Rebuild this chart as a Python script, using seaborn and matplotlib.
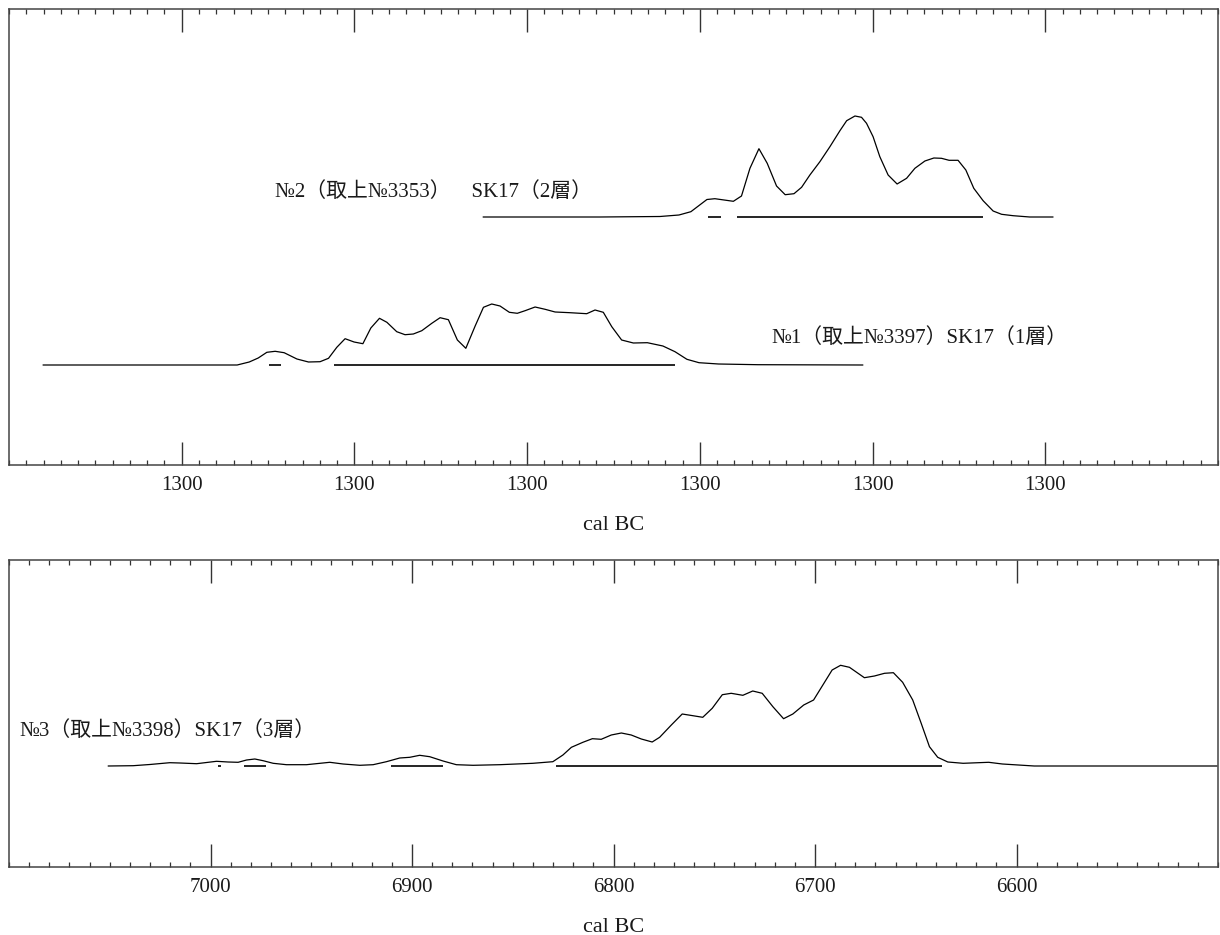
import numpy as np
import pandas as pd
import matplotlib
matplotlib.use("Agg")
import matplotlib.pyplot as plt
from matplotlib.ticker import MultipleLocator, FixedLocator
import seaborn as sns

# ---------------- data ----------------
# Upper panel: horizontal scale in axis units (major ticks every 100), all major labels read "1300"
TOP_TICK_POS = [100, 200, 300, 400, 500, 600]
TOP_TICK_LABELS = ["1300", "1300", "1300", "1300", "1300", "1300"]

# No.2 probability curve (x, relative probability)
NO2_X = [274.5, 342.2, 376.9, 387.9, 394.8, 404.1, 408.7, 419.4, 424.1, 429.0, 434.2, 439.0,
         444.4, 449.4, 454.5, 458.9, 463.7, 469.5, 475.3, 481.1, 485.0, 489.8, 493.6, 496.5,
         500.3, 504.2, 509.0, 514.2, 519.7, 524.5, 530.3, 535.5, 539.9, 544.3, 549.5, 554.0,
         558.6, 564.0, 569.8, 574.7, 581.4, 591.0, 604.5]
NO2_P = [0.0, 0.0, 0.005, 0.02, 0.053, 0.175, 0.183, 0.157, 0.21, 0.487, 0.683, 0.537,
         0.31, 0.223, 0.233, 0.297, 0.42, 0.553, 0.703, 0.863, 0.963, 1.01, 0.997, 0.937,
         0.803, 0.603, 0.42, 0.33, 0.387, 0.487, 0.56, 0.59, 0.587, 0.567, 0.567, 0.47,
         0.287, 0.163, 0.06, 0.027, 0.013, 0.0, 0.0]
NO2_HPD_START = [404.5, 421.3]
NO2_HPD_END = [412.2, 564.0]

# No.1 probability curve
NO1_X = [19.7, 132.1, 139.1, 144.3, 149.3, 154.1, 159.3, 166.7, 173.4, 180.1, 185.0, 189.8,
         194.6, 199.8, 204.9, 209.5, 214.5, 218.8, 224.5, 229.3, 234.1, 239.0, 244.8, 249.6,
         254.4, 259.6, 264.5, 269.9, 274.7, 279.5, 284.3, 289.7, 294.3, 298.8, 304.6, 310.4,
         316.2, 324.8, 334.5, 339.3, 344.1, 349.0, 354.7, 361.5, 369.6, 378.6, 385.6, 392.5,
         399.5, 410.8, 433.6, 494.4]
NO1_P = [0.0, 0.0, 0.03, 0.07, 0.127, 0.137, 0.123, 0.06, 0.03, 0.033, 0.067, 0.177,
         0.263, 0.23, 0.213, 0.37, 0.467, 0.427, 0.333, 0.303, 0.31, 0.343, 0.417, 0.473,
         0.453, 0.25, 0.167, 0.39, 0.577, 0.61, 0.59, 0.527, 0.517, 0.543, 0.58, 0.557,
         0.53, 0.523, 0.513, 0.55, 0.527, 0.383, 0.25, 0.22, 0.223, 0.19, 0.133, 0.057,
         0.023, 0.01, 0.003, 0.0]
NO1_HPD_START = [150.6, 188.4]
NO1_HPD_END = [157.4, 385.6]

# Lower panel: cal BC years
BOT_TICK_POS = [7000, 6900, 6800, 6700, 6600]
BOT_TICK_LABELS = ["7000", "6900", "6800", "6700", "6600"]

NO3_X = [7050.8, 7038.4, 7030.1, 7020.2, 7015.2, 7006.9, 6997.0, 6991.3, 6986.3, 6982.1,
         6978.0, 6973.9, 6968.9, 6962.3, 6952.4, 6940.8, 6934.2, 6925.9, 6919.3, 6912.7,
         6906.1, 6901.1, 6896.2, 6891.2, 6884.6, 6878.0, 6869.7, 6856.5, 6840.0, 6830.1,
         6825.1, 6820.9, 6815.2, 6810.5, 6806.1, 6801.1, 6796.1, 6791.2, 6786.2, 6780.8,
         6777.1, 6771.3, 6765.9, 6760.6, 6755.7, 6751.0, 6746.0, 6741.6, 6735.8, 6730.9,
         6726.2, 6720.9, 6715.6, 6711.0, 6705.6, 6700.7, 6696.1, 6691.5, 6687.3, 6682.9,
         6675.5, 6670.5, 6665.5, 6661.1, 6656.5, 6651.5, 6647.3, 6643.2, 6639.1, 6634.1,
         6626.5, 6613.8, 6607.0, 6591.2, 6500.4]
NO3_P = [0.0, 0.003, 0.015, 0.033, 0.03, 0.023, 0.047, 0.04, 0.037, 0.06,
         0.07, 0.053, 0.027, 0.013, 0.013, 0.037, 0.02, 0.007, 0.013, 0.043,
         0.08, 0.087, 0.107, 0.093, 0.05, 0.013, 0.007, 0.013, 0.027, 0.043,
         0.11, 0.187, 0.237, 0.273, 0.267, 0.31, 0.33, 0.31, 0.27, 0.24,
         0.287, 0.41, 0.52, 0.503, 0.487, 0.577, 0.713, 0.727, 0.707, 0.75,
         0.727, 0.593, 0.473, 0.52, 0.61, 0.66, 0.81, 0.96, 1.007, 0.987,
         0.883, 0.90, 0.927, 0.933, 0.837, 0.66, 0.427, 0.193, 0.087, 0.04,
         0.027, 0.037, 0.02, 0.0, 0.0]
NO3_HPD_START = [6996.2, 6983.5, 6910.6, 6828.4]
NO3_HPD_END = [6995.0, 6972.7, 6884.6, 6636.8]

LABEL_NO1 = "№1（取上№3397）SK17（1層）"
LABEL_NO2 = "№2（取上№3353）　SK17（2層）"
LABEL_NO3 = "№3（取上№3398）SK17（3層）"
XLABEL = "cal BC"

# ---------------- layout ----------------
W, H = 1220, 935
sns.set_theme(style="white")
FONTS = ["Liberation Serif", "Noto Sans CJK JP", "DejaVu Sans"]
plt.rcParams["font.family"] = FONTS
TXT = "#1a1a1a"
FS = 15

fig = plt.figure(figsize=(W / 100, H / 100), dpi=100)
ax_top = fig.add_axes([9 / W, (H - 465) / H, 1209 / W, 456 / H])
ax_bot = fig.add_axes([9 / W, (H - 867) / H, 1209 / W, 307 / H])

PROB_SCALE = 1.0  # one relative-probability unit = 100 px


def curve_frame(xs, ps, base, name):
    return pd.DataFrame({"x": xs, "y": [base + p * PROB_SCALE for p in ps], "s": name})


top_df = pd.concat([curve_frame(NO2_X, NO2_P, 2.48, "No2"),
                    curve_frame(NO1_X, NO1_P, 1.00, "No1")])
sns.lineplot(data=top_df, x="x", y="y", units="s", estimator=None, sort=False,
             color="black", linewidth=0.9, ax=ax_top)
ax_top.hlines([2.48] * len(NO2_HPD_START), NO2_HPD_START, NO2_HPD_END, color="black", linewidth=1.2)
ax_top.hlines([1.00] * len(NO1_HPD_START), NO1_HPD_START, NO1_HPD_END, color="black", linewidth=1.2)
ax_top.text(154.1, 2.73, LABEL_NO2, fontsize=FS, color=TXT, va="center", ha="left")
ax_top.text(441.2, 1.27, LABEL_NO1, fontsize=FS, color=TXT, va="center", ha="left")

bot_df = curve_frame(NO3_X, NO3_P, 1.01, "No3")
sns.lineplot(data=bot_df, x="x", y="y", units="s", estimator=None, sort=False,
             color="black", linewidth=0.9, ax=ax_bot)
ax_bot.hlines([1.01] * len(NO3_HPD_START), NO3_HPD_START, NO3_HPD_END, color="black", linewidth=1.2)
ax_bot.text(7094.6, 1.36, LABEL_NO3, fontsize=FS, color=TXT, va="center", ha="left")

ax_top.set_xlim(0, 700)
ax_top.set_ylim(0, 4.56)
ax_bot.set_xlim(7100, 6500)
ax_bot.set_ylim(0, 3.07)

ax_top.xaxis.set_major_locator(FixedLocator(TOP_TICK_POS))
ax_top.set_xticklabels(TOP_TICK_LABELS)
ax_top.xaxis.set_minor_locator(MultipleLocator(10))
ax_bot.xaxis.set_major_locator(FixedLocator(BOT_TICK_POS))
ax_bot.set_xticklabels(BOT_TICK_LABELS)
ax_bot.xaxis.set_minor_locator(MultipleLocator(10))

for ax in (ax_top, ax_bot):
    ax.set_yticks([])
    ax.set_ylabel("")
    ax.set_xlabel(XLABEL, fontsize=16, color=TXT, labelpad=15)
    ax.tick_params(axis="x", which="major", direction="in", top=True, bottom=True,
                   length=16.5, width=1.0, color="#333333", labelsize=FS, labelcolor=TXT, pad=8)
    ax.tick_params(axis="x", which="minor", direction="in", top=True, bottom=True,
                   length=3.8, width=0.9, color="#333333")
    for sp in ax.spines.values():
        sp.set_visible(True)
        sp.set_color("#444444")
        sp.set_linewidth(1.1)

fig.savefig("out.png", dpi=100)
